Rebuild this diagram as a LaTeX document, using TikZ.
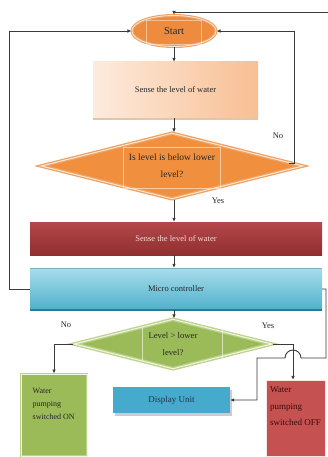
\documentclass[tikz,border=0pt]{standalone}
\usepackage{fontspec}
\setmainfont{Liberation Serif}
\usetikzlibrary{shapes.geometric,arrows.meta,calc,shadows}
\definecolor{connc}{HTML}{3A3A3A}
\definecolor{startfill}{HTML}{EE8B3F}
\definecolor{startring}{HTML}{EDA264}
\definecolor{ringin}{HTML}{FCE6CF}
\definecolor{peachA}{HTML}{FDEBDD}
\definecolor{peachB}{HTML}{F8BF94}
\definecolor{decfill}{HTML}{F0903E}
\definecolor{redA}{HTML}{B4474A}
\definecolor{redB}{HTML}{902F30}
\definecolor{redtext}{HTML}{F5DADA}
\definecolor{blueA}{HTML}{A8DDEC}
\definecolor{blueB}{HTML}{4FB0CB}
\definecolor{bluedark}{HTML}{2C7B92}
\definecolor{greenfill}{HTML}{9BBB59}
\definecolor{greenring}{HTML}{BCD18A}
\definecolor{greenin}{HTML}{F1F6E4}
\definecolor{dispfill}{HTML}{45AACB}
\definecolor{dispText}{HTML}{1F3450}
\definecolor{offfill}{HTML}{C55250}
\definecolor{offtext}{HTML}{3A0B0B}
\begin{document}
\begin{tikzpicture}[x=1pt,y=-1pt,
  every node/.style={font=\fontsize{8.5}{10}\selectfont, inner sep=0pt},
  line/.style={draw=connc, line width=0.9pt},
  arrow/.style={line, -{Latex[length=4pt,width=3.6pt]}},
  startnode/.style={ellipse, minimum width=84pt, minimum height=31pt, fill=startfill,
     draw=startring, line width=1.1pt, double=ringin, double distance=0.8pt, text=black!85,
     font=\fontsize{10.5}{12}\selectfont},
  sensebox/.style={rectangle, minimum width=165pt, minimum height=56pt,
     left color=peachA, right color=peachB, draw=none, text=black!85,
     drop shadow={opacity=0.35, shadow xshift=0pt, shadow yshift=-2pt, fill=orange!70!black}},
  decnode/.style={diamond, aspect=3.9, align=center, text=black!85},
  dec1style/.style={decnode, fill=decfill, draw=startring, line width=1.3pt,
     double=ringin, double distance=1pt, font=\fontsize{9.5}{17.5}\selectfont},
  dec2style/.style={decnode, fill=greenfill, draw=greenring, line width=1.3pt,
     double=greenin, double distance=1pt, font=\fontsize{8.7}{17}\selectfont},
  redbar/.style={rectangle, top color=redA, bottom color=redB, text=redtext},
  microbox/.style={rectangle, top color=blueA, bottom color=blueB, text=black!85},
  dispbox/.style={rectangle, fill=dispfill, text=dispText, font=\fontsize{9}{10}\selectfont,
     drop shadow={opacity=0.4, shadow xshift=2pt, shadow yshift=-3pt}},
  onstyle/.style={rectangle, fill=greenfill, draw=greenring, line width=1pt,
     double=greenin, double distance=0.8pt},
  offstyle/.style={rectangle, fill=offfill, draw=white!85!offfill, line width=1.2pt},
  boxtext/.style={anchor=north west, align=left},
  lbl/.style={text=black!85, font=\fontsize{8.5}{10}\selectfont},
  faint/.style={draw=white, opacity=0.45, line width=0.5pt}
]
\fill[white] (0,0) rectangle (328,457);
\useasboundingbox (0,0) rectangle (328,457);

% nodes
\node[startnode] (start) at (174,31) {Start};
\node[sensebox] (sense1) at (175.5,90) {Sense the level of water};
\node[dec1style, minimum width=262pt, minimum height=66pt] (dec1) at (172,166) {Is level is below lower\\level?};
\node[redbar, minimum width=292pt, minimum height=33pt] (sense2) at (176,238.5) {Sense the level of water};
\node[microbox, minimum width=292pt, minimum height=42pt] (micro) at (176,289) {Micro controller};
\node[dec2style, minimum width=198pt, minimum height=50pt] (dec2) at (173,344) {Level > lower\\level?};
\node[dispbox, minimum width=117pt, minimum height=26pt] (display) at (171.5,400) {Display Unit};
\node[onstyle, minimum width=66pt, minimum height=82pt] (onbox) at (54,415) {};
\node[offstyle, minimum width=59pt, minimum height=76pt] (offbox) at (296,418.5) {};
\node[boxtext, font=\fontsize{8}{13}\selectfont, text=black!85] (ontext) at ($(onbox.north west)+(12,15)$) {Water\\pumping\\switched ON};
\node[boxtext, font=\fontsize{9}{16.5}\selectfont, text=offtext] (offtext) at ($(offbox.north west)+(4,7)$) {Water\\pumping\\switched OFF};

% decorative details
\draw[line width=2pt, draw=bluedark] (micro.south west) -- (micro.south east);
\draw[line width=0.6pt, draw=bluedark!60] (micro.north west) -- (micro.north east);
\draw[faint] (146,20) rectangle (201,44);
\draw[faint, draw=ringin, opacity=0.7] (123,147) rectangle (220,188);
\draw[faint, draw=greenin, opacity=0.7] (142,326) -- (142,362) (222,327) -- (222,361);

% labels
\node[lbl] (no1) at (278,136) {No};
\node[lbl] (yes1) at (218,201) {Yes};
\node[lbl] (no2) at (66,325) {No};
\node[lbl] (yes2) at (268,326) {Yes};

% connectors
\coordinate (topin) at (328,12);
\draw[arrow] (topin) -| (start.north);
\draw[arrow] (start.south) -- (start.south|-sense1.north);
\draw[arrow] (start.south|-sense1.south) -- (start.south|-dec1.north);
\draw[arrow] (start.south|-dec1.south) -- (start.south|-sense2.north);
\draw[arrow] (start.south|-sense2.south) -- (start.south|-micro.north);
\draw[arrow] (start.south|-micro.south) -- (start.south|-dec2.north);
\draw[arrow] ($(dec1.east)+(-15,-3)$) -- ++(6,0) |- (start.east);
\draw[arrow] (micro.west) -- ++(-20,0) |- (start.west);
\draw[arrow] (dec2.west) -| (onbox.north);
\draw[arrow] (dec2.east) -| ($(offbox.north)+(-3,0)$);
\draw[arrow] (micro.east) -- (326,289) -- (326,358) -- (301,358)
   arc[start angle=0, end angle=180, radius=8pt] -- (257,358) |- (display.east);
\end{tikzpicture}
\end{document}
